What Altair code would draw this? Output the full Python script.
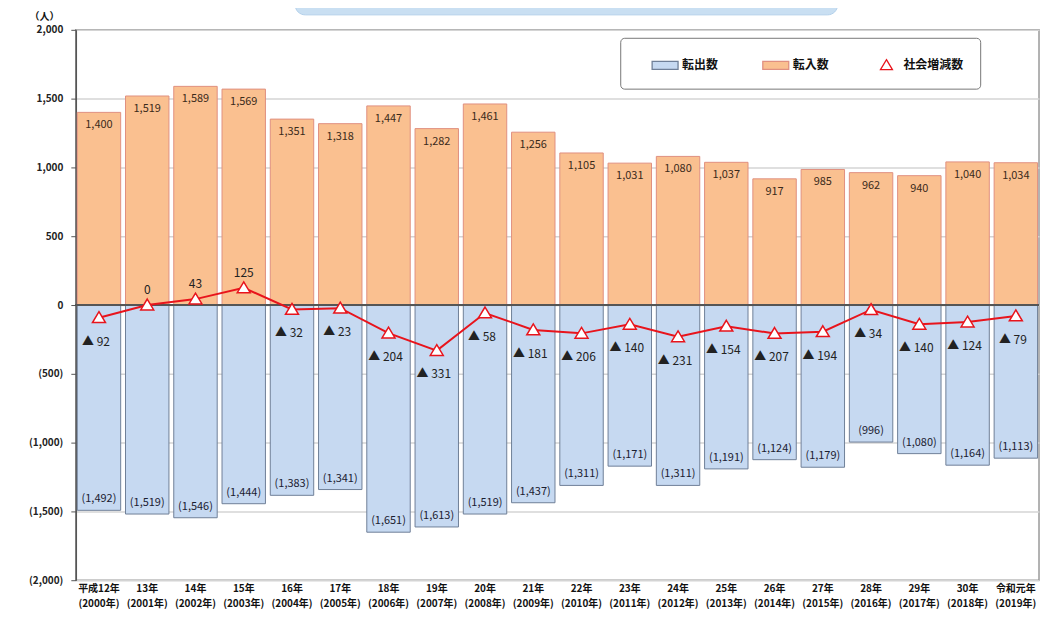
import altair as alt
import pandas as pd

FONT = "Noto Sans CJK JP"

# ---- data ----
wareki = ["平成12年", "13年", "14年", "15年", "16年", "17年", "18年", "19年", "20年", "21年",
          "22年", "23年", "24年", "25年", "26年", "27年", "28年", "29年", "30年", "令和元年"]
seireki = ["(2000年)", "(2001年)", "(2002年)", "(2003年)", "(2004年)", "(2005年)", "(2006年)",
           "(2007年)", "(2008年)", "(2009年)", "(2010年)", "(2011年)", "(2012年)", "(2013年)",
           "(2014年)", "(2015年)", "(2016年)", "(2017年)", "(2018年)", "(2019年)"]
tennyu = [1400, 1519, 1589, 1569, 1351, 1318, 1447, 1282, 1461, 1256,
          1105, 1031, 1080, 1037, 917, 985, 962, 940, 1040, 1034]
tenshutsu = [1492, 1519, 1546, 1444, 1383, 1341, 1651, 1613, 1519, 1437,
             1311, 1171, 1311, 1191, 1124, 1179, 996, 1080, 1164, 1113]
net = [-92, 0, 43, 125, -32, -23, -204, -331, -58, -181,
       -206, -140, -231, -154, -207, -194, -34, -140, -124, -79]
series_names = ["転出数", "転入数", "社会増減数"]

cats = [w + "\n" + s for w, s in zip(wareki, seireki)]

df = pd.DataFrame({
    "cat": cats,
    "tennyu": tennyu,
    "out_neg": [-v for v in tenshutsu],
    "net": net,
    "zero": 0,
    "series": series_names[2],
    "in_label": [f"{v:,}" for v in tennyu],
    "out_label": [f"({v:,})" for v in tenshutsu],
    "net_label": [(f"{v:,}" if v >= 0 else f"▲ {-v:,}") for v in net],
})
long_df = pd.concat([
    pd.DataFrame({"cat": cats, "series": series_names[0], "value": [-v for v in tenshutsu]}),
    pd.DataFrame({"cat": cats, "series": series_names[1], "value": tennyu}),
])

RECT = "M-1.3,-0.4H1.3V0.4H-1.3Z"
TRI = "M0,-0.55L0.6,0.45L-0.6,0.45Z"

fill_scale = alt.Scale(domain=series_names, range=["#C6D9F1", "#FAC090", "#FFFFFF"])
stroke_scale = alt.Scale(domain=series_names, range=["#6F7F98", "#E09080", "#E8141C"])
shape_scale = alt.Scale(domain=series_names, range=[RECT, RECT, TRI])

leg = alt.Legend(
    orient="none", legendX=546, legendY=8, direction="horizontal", title=None,
    fillColor="white", strokeColor="#777", cornerRadius=4, padding=16,
    symbolSize=400, symbolStrokeWidth=1.3, symbolOffset=18, labelFont=FONT, labelFontSize=12,
    labelFontWeight="bold", labelColor="#111", labelOffset=6, columnPadding=28,
)

x_axis = alt.Axis(
    title=None, labelExpr="split(datum.label, '\\n')", labelAngle=0,
    labelFont=FONT, labelFontSize=10, labelFontWeight="bold", labelColor="#111",
    labelPadding=3, labelLineHeight=15, ticks=False, domain=False, labelBaseline="top",
)
x_scale = alt.Scale(paddingInner=0.1, paddingOuter=0.03)


def xe():
    return alt.X("cat:N", sort=cats, axis=x_axis, scale=x_scale)


y_scale = alt.Scale(domain=[-2000, 2000], nice=False)
y_axis = alt.Axis(
    title="（人）", titleAngle=0, titleX=-32, titleY=-13, titleAlign="center",
    titleBaseline="middle", titleFont=FONT, titleFontSize=10, titleFontWeight="bold",
    titleColor="#111",
    values=[-2000, -1500, -1000, -500, 0, 500, 1000, 1500, 2000],
    labelExpr="datum.value < 0 ? '(' + format(-datum.value, ',') + ')' : format(datum.value, ',')",
    labelFont=FONT, labelFontSize=10, labelFontWeight="bold", labelColor="#222",
    labelPadding=8, tickSize=5, tickColor="#555", domainColor="#555", domainWidth=1.5,
    gridColor="#D4D4D4", gridWidth=1.5,
)


def ye(field):
    return alt.Y(field, stack=None, scale=y_scale, axis=y_axis)


bars = alt.Chart(long_df).mark_bar(strokeWidth=1).encode(
    x=xe(), y=ye("value:Q"),
    fill=alt.Fill("series:N", scale=fill_scale, legend=leg),
    stroke=alt.Stroke("series:N", scale=stroke_scale, legend=leg),
)

zero = alt.Chart(df).mark_rule(color="#555", strokeWidth=1).encode(y=ye("zero:Q"))

in_text = alt.Chart(df).mark_text(
    baseline="top", dy=7, font=FONT, fontSize=11, color="#3A2A1A"
).encode(x=xe(), y=ye("tennyu:Q"), text="in_label:N")

out_text = alt.Chart(df).mark_text(
    baseline="bottom", dy=-6, font=FONT, fontSize=11, color="#1A2030"
).encode(x=xe(), y=ye("out_neg:Q"), text="out_label:N")

line = alt.Chart(df).mark_line(strokeWidth=2).encode(
    x=xe(), y=ye("net:Q"),
    stroke=alt.Stroke("series:N", scale=stroke_scale, legend=leg),
)

points = alt.Chart(df).mark_point(filled=True, size=470, strokeWidth=1.5, opacity=1).encode(
    x=xe(), y=ye("net:Q"),
    fill=alt.Fill("series:N", scale=fill_scale, legend=leg),
    stroke=alt.Stroke("series:N", scale=stroke_scale, legend=leg),
    shape=alt.Shape("series:N", scale=shape_scale, legend=leg),
)

net_pos = alt.Chart(df).transform_filter("datum.net >= 0").mark_text(
    baseline="bottom", dy=-8, font=FONT, fontSize=12, color="#222"
).encode(x=xe(), y=ye("net:Q"), text="net_label:N")

net_neg = alt.Chart(df).transform_filter("datum.net < 0").mark_text(
    baseline="middle", dy=24, dx=-3, font=FONT, fontSize=12, color="#222"
).encode(x=xe(), y=ye("net:Q"), text="net_label:N")

deco = alt.Chart(alt.Data(values=[{"k": 1}])).mark_rect(
    fill="#C9DFF2", stroke="#B3D0EA", cornerRadius=10
).encode(x=alt.value(220), x2=alt.value(764), y=alt.value(-45), y2=alt.value(-15))

chart = alt.layer(
    bars, zero, in_text, out_text, line, points, net_pos, net_neg, deco
).properties(
    width=966, height=552,
    padding={"left": 68, "top": 21, "right": 2, "bottom": 33},
    autosize=alt.AutoSizeParams(type="none"),
).configure_view(
    stroke="#999", strokeWidth=1.5
)

chart.save("out.html", embed_options={"renderer": "svg", "actions": False})
